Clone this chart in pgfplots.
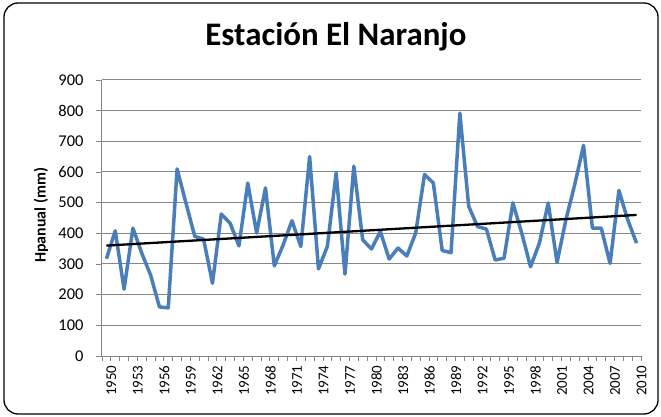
\documentclass[border=0pt]{standalone}
\usepackage{pgfplots}
\pgfplotsset{compat=1.18}
\usepackage{fontspec}
\setmainfont{Carlito}
\definecolor{lineblue}{RGB}{74,126,187}
\definecolor{gridgray}{RGB}{134,134,134}
\begin{document}
\begin{tikzpicture}[x=1bp,y=1bp]
\useasboundingbox (-102bp,-61bp) rectangle (559bp,356bp);
\draw[line width=1.3bp, rounded corners=14bp] (-98bp,-58bp) rectangle (556bp,353bp);
\begin{axis}[
  at={(0,0)}, anchor=south west,
  scale only axis, width=539bp, height=276bp,
  xmin=-0.5, xmax=60.5, ymin=0, ymax=900,
  ytick={0,100,...,900},
  xtick={0,3,...,60},
  xticklabels={1950,1953,1956,1959,1962,1965,1968,1971,1974,1977,1980,1983,1986,1989,1992,1995,1998,2001,2004,2007,2010},
  x tick label style={rotate=90, anchor=east, font=\fontsize{15}{16}\selectfont, yshift=-5bp},
  y tick label style={font=\fontsize{16.5}{18}\selectfont, xshift=-9bp},
  /pgf/number format/assume math mode=true,
  /pgf/number format/1000 sep={},
  xtick style={draw=none},
  extra x ticks={-0.5,0.5,...,60.5},
  extra x tick labels={},
  extra x tick style={grid=none, xtick style={draw=gridgray, line width=0.8bp}, major tick length=5bp, tick align=outside},
  ytick style={draw=gridgray, line width=0.8bp},
  major tick length=6bp, tick align=outside,
  ymajorgrids, grid style={gridgray, line width=1bp},
  axis line style={gridgray, line width=1bp},
  axis x line*=bottom, axis y line*=left,
  ylabel={\bfseries Hpanual (mm)},
  ylabel style={font=\fontsize{16}{18}\selectfont, at={(axis description cs:0,0.51)}, yshift=61bp, anchor=center},
  title={\bfseries Estación El Naranjo},
  title style={font=\fontsize{33}{36}\selectfont, at={(axis description cs:0.434,1)}, anchor=base, yshift=29bp},
  clip=false,
]
\addplot[lineblue, line width=3.5bp, line join=round] coordinates {
(0,317) (1,408) (2,218) (3,417) (4,335) (5,264) (6,160) (7,157) (8,610) (9,499)
(10,390) (11,381) (12,237) (13,463) (14,433) (15,359) (16,564) (17,401) (18,548) (19,294)
(20,362) (21,441) (22,357) (23,650) (24,284) (25,357) (26,597) (27,267) (28,619) (29,379)
(30,349) (31,406) (32,316) (33,352) (34,326) (35,401) (36,592) (37,564) (38,344) (39,337)
(40,792) (41,488) (42,422) (43,414) (44,313) (45,319) (46,499) (47,401) (48,291) (49,368)
(50,499) (51,305) (52,444) (53,559) (54,687) (55,417) (56,417) (57,302) (58,540) (59,444)
(60,368)
};
\addplot[black, line width=2.3bp] coordinates {(0,360) (60,460)};
\end{axis}
\end{tikzpicture}
\end{document}
